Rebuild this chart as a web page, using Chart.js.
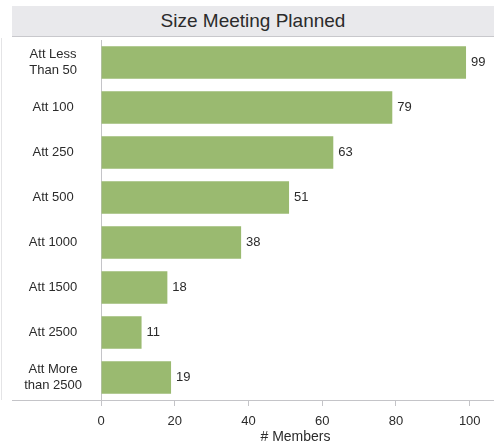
<!DOCTYPE html>
<html>
<head>
<meta charset="utf-8">
<script src="https://cdn.jsdelivr.net/npm/chart.js@4"></script>
<style>
  html, body { margin: 0; padding: 0; background: #fff; }
  #wrap { position: relative; width: 494px; height: 448px; }
  #title {
    position: absolute; left: 12px; top: 6px; width: 482px; height: 30px;
    background: #e9e9ec; border-bottom: 1px solid #c8c8cc;
    font: 19px "Liberation Sans", Arial, sans-serif; color: #2b2b2b;
    text-align: center; line-height: 30px;
  }
  #chart { position: absolute; left: 0; top: 0; }
</style>
</head>
<body>
<div id="wrap">
  <div id="title">Size Meeting Planned</div>
  <canvas id="chart" width="494" height="448"></canvas>
</div>
<script>
const categories = [
  ['Att Less', 'Than 50'],
  'Att 100',
  'Att 250',
  'Att 500',
  'Att 1000',
  'Att 1500',
  'Att 2500',
  ['Att More', 'than 2500']
];
const members = [99, 79, 63, 51, 38, 18, 11, 19];
const xTicks = [0, 20, 40, 60, 80, 100];

const font = { family: '"Liberation Sans", Arial, sans-serif', size: 13 };

// value labels at the end of each bar, plus the long bottom rule and left edge
const extras = {
  id: 'extras',
  afterDatasetsDraw(chart) {
    const { ctx, chartArea } = chart;
    const meta = chart.getDatasetMeta(0);
    ctx.save();
    ctx.font = '13px "Liberation Sans", Arial, sans-serif';
    ctx.fillStyle = '#2b2b2b';
    ctx.textAlign = 'left';
    ctx.textBaseline = 'middle';
    meta.data.forEach((bar, i) => {
      ctx.fillText(members[i], bar.x + 5, bar.y);
    });
    ctx.strokeStyle = '#c4c4c8';
    ctx.lineWidth = 1;
    ctx.beginPath();
    ctx.moveTo(12, Math.round(chartArea.bottom) + 0.5);
    ctx.lineTo(494, Math.round(chartArea.bottom) + 0.5);
    ctx.stroke();
    ctx.strokeStyle = '#e4e4e6';
    ctx.beginPath();
    ctx.moveTo(1.5, 38);
    ctx.lineTo(1.5, chartArea.bottom);
    ctx.stroke();
    ctx.restore();
  }
};

new Chart(document.getElementById('chart'), {
  type: 'bar',
  data: {
    labels: categories,
    datasets: [{
      data: members,
      backgroundColor: '#9aba70',
      borderWidth: 0,
      barPercentage: 0.72,
      categoryPercentage: 1
    }]
  },
  options: {
    indexAxis: 'y',
    responsive: false,
    animation: false,
    layout: { padding: { top: 40, left: 12, right: 4, bottom: 0 } },
    plugins: { legend: { display: false }, tooltip: { enabled: false } },
    scales: {
      x: {
        min: 0,
        max: 105.5,
        afterBuildTicks: (axis) => {
          axis.ticks = xTicks.map((v) => ({ value: v }));
        },
        afterFit: (axis) => { axis.height = 48; },
        grid: { drawOnChartArea: false, tickLength: 6, color: '#c4c4c8' },
        border: { display: false },
        ticks: { font: font, color: '#2b2b2b', padding: 8 },
        title: {
          display: true, text: '# Members', color: '#2b2b2b',
          font: { family: font.family, size: 14 }, padding: { top: 0, bottom: 2 }
        }
      },
      y: {
        afterFit: (axis) => { axis.width = 89; },
        grid: { display: false },
        border: { color: '#c4c4c8' },
        ticks: { font: font, color: '#2b2b2b', crossAlign: 'center', padding: 11 }
      }
    }
  },
  plugins: [extras]
});
</script>
</body>
</html>
